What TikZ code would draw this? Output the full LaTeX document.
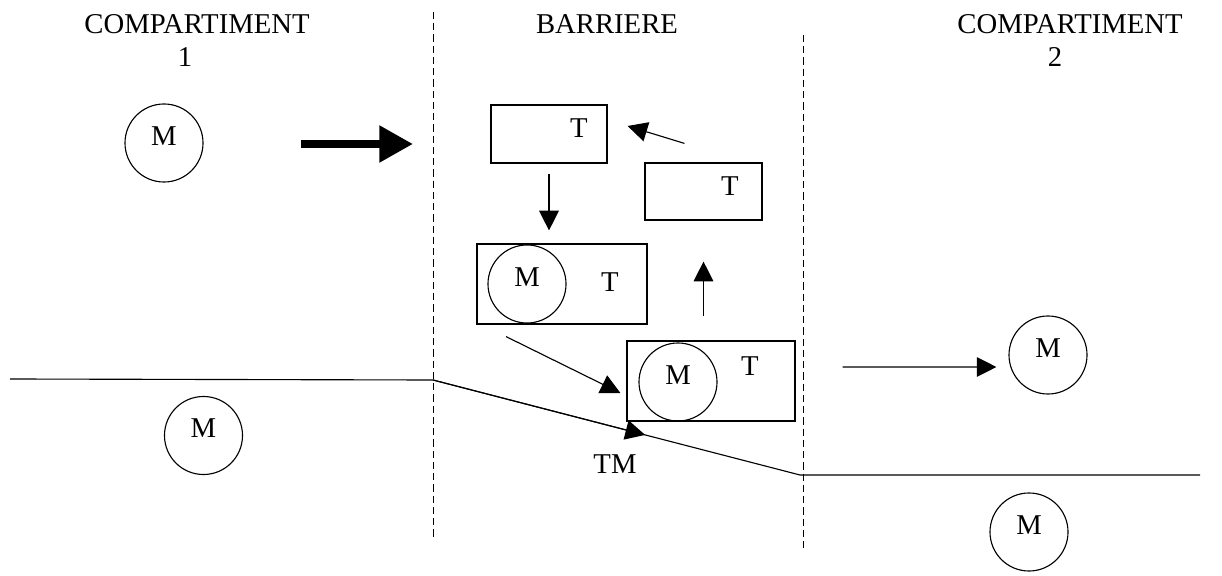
\documentclass[tikz,border=0pt]{standalone}
\usepackage{fontspec}
\setmainfont{Liberation Serif}
\usetikzlibrary{arrows.meta, positioning, calc}
\tikzstyle{molecule} = [circle, draw, line width=0.8pt, minimum size=1.95cm, inner sep=0pt, text height=13.5pt, text depth=10pt]
\tikzstyle{carrier} = [rectangle, draw, line width=0.8pt, inner sep=0pt]
\tikzstyle{title} = [inner sep=0pt]
\tikzstyle{arrow} = [line width=0.8pt, -{Triangle[length=14pt, width=14pt]}]
\tikzstyle{bigarrow} = [line width=5.7pt, -{Triangle[length=24pt, width=25pt]}]
\tikzstyle{wall} = [line width=0.7pt, dash pattern=on 5pt off 3pt]
\tikzstyle{membrane} = [line width=0.8pt]

\begin{document}
\begin{tikzpicture}[x=0.025cm, y=-0.025cm, font=\fontsize{20.4}{24}\selectfont]
    \useasboundingbox (0,0) rectangle (1222,576);

    % Titles
    \node[title] (comp1) at (197,24.5) {COMPARTIMENT};
    \node[title] (num1) at (185,57) {1};
    \node[title] (barr) at (607,24.5) {BARRIERE};
    \node[title] (comp2) at (1070,24.5) {COMPARTIMENT};
    \node[title] (num2) at (1055,57) {2};

    % Walls of the barrier
    \coordinate (w1top) at (433,12);
    \coordinate (w1bot) at (433,540);
    \coordinate (w2top) at (803,35);
    \coordinate (w2bot) at (803,548);
    \draw[wall] (w1top) -- (w1bot);
    \draw[wall] (w2top) -- (w2bot);

    % Membrane
    \coordinate (memL) at (10,379);
    \coordinate (memA) at (433,380);
    \coordinate (memB) at (800,475);
    \coordinate (memR) at (1200,475);
    \draw[membrane] (memL) -- (memA) -- (memB) -- (memR);
    \draw[arrow] (memA) -- ($(memA)!0.578!(memB)$);
    \node (tm) at (615,464.5) {TM};

    % Free molecules
    \node[molecule] (m1) at (164,143) {M};
    \node[molecule] (m2) at (203.5,435.5) {M};
    \node[molecule] (m3) at (1048,355) {M};
    \node[molecule] (m4) at (1029,532) {M};

    % Carriers
    \node[carrier, minimum width=2.9cm, minimum height=1.45cm] (boxA) at (549,134) {};
    \node (tA) at (579,128) {T};
    \node[carrier, minimum width=2.925cm, minimum height=1.425cm] (boxB) at (703.5,191.5) {};
    \node (tB) at (730,186) {T};
    \node[carrier, minimum width=4.25cm, minimum height=2cm] (boxC) at (562,284) {};
    \node[molecule] (mC) at (527,284) {M};
    \node (tC) at (610,282) {T};
    \node[carrier, minimum width=4.2cm, minimum height=2cm] (boxD) at (711,381) {};
    \node[molecule] (mD) at (678,382) {M};
    \node (tD) at (750,366) {T};

    % Transport steps
    \draw[bigarrow] ([xshift=2.425cm, yshift=-0.025cm]m1.east) -- ([xshift=-0.5cm, yshift=-0.025cm]m1 -| w1top);
    \draw[arrow] ([yshift=-0.25cm]boxA.south) -- ([yshift=0.325cm]boxA.south |- boxC.north);
    \draw[arrow] ([xshift=-1.4cm, yshift=-0.3cm]boxC.south) -- ([xshift=-0.15cm, yshift=-0.3cm]boxD.west);
    \draw[arrow] ([yshift=0.6cm]boxB.south |- boxD.north) -- ([yshift=-1.025cm]boxB.south);
    \draw[arrow] ([xshift=-0.475cm, yshift=0.475cm]boxB.north) -- ([xshift=0.5cm, yshift=0.2cm]boxA.east);
    \draw[arrow] ([xshift=1.175cm, yshift=0.35cm]boxD.east) -- ([xshift=-0.3cm, yshift=-0.3cm]m3.west);
\end{tikzpicture}
\end{document}
